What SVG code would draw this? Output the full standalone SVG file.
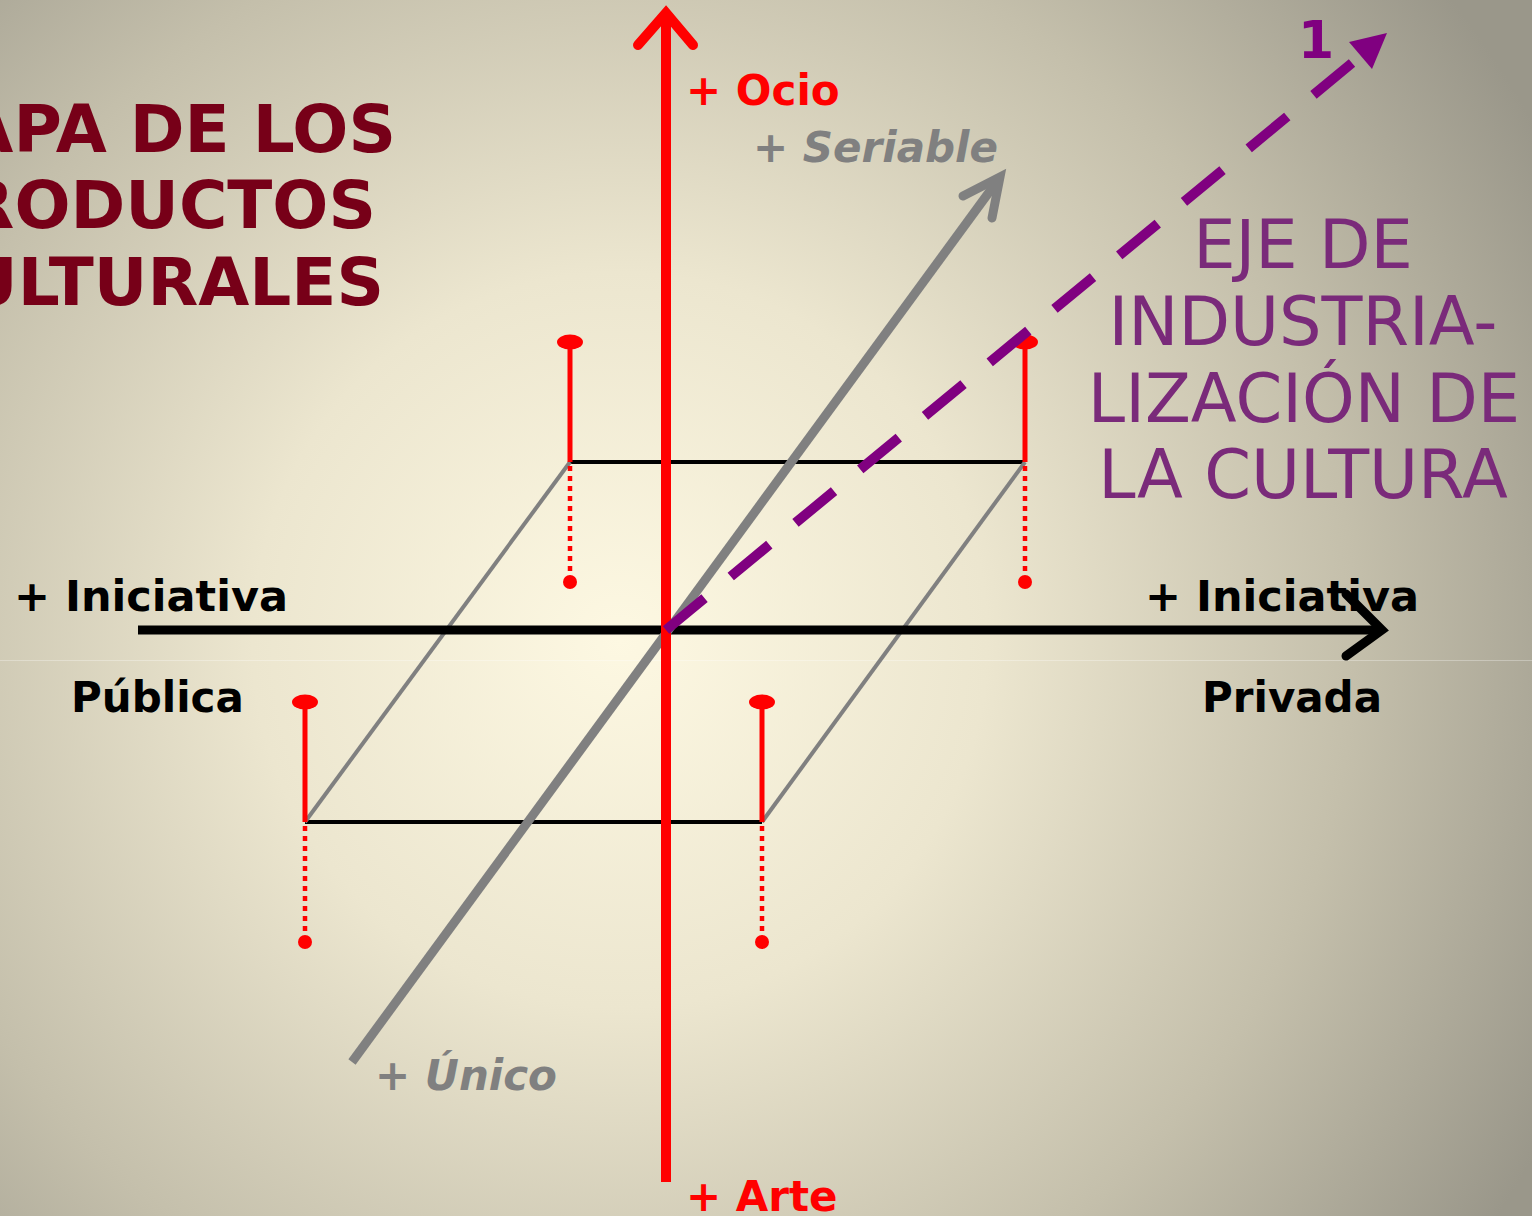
<svg xmlns="http://www.w3.org/2000/svg" width="1532" height="1216" viewBox="0 0 1532 1216">
<defs>
<radialGradient id="bg" gradientUnits="userSpaceOnUse" cx="620" cy="640" r="1050">
<stop offset="0" stop-color="#fdf8e2"/>
<stop offset="0.35" stop-color="#ece6cf"/>
<stop offset="0.7" stop-color="#c4bfab"/>
<stop offset="1" stop-color="#9a978a"/>
</radialGradient>
<style>
.t{font-family:"DejaVu Sans","Liberation Sans",sans-serif;font-weight:bold;font-size:42px}
.it{font-style:italic;fill:#808080}
.red{fill:#ff0000}
.blk{fill:#000}
.title{font-family:"DejaVu Sans","Liberation Sans",sans-serif;font-weight:bold;font-size:66px;fill:#770018;text-anchor:end}
.eje{font-family:"DejaVu Sans","Liberation Sans",sans-serif;font-size:67px;fill:#7a2a7a;text-anchor:middle}
.pin{stroke:#ff0000;stroke-width:5;fill:none}
.dot{stroke:#ff0000;stroke-width:4.5;stroke-dasharray:5 5;fill:none}
.edge{stroke:#000;stroke-width:4;fill:none}
.side{stroke:#808080;stroke-width:4;fill:none}
</style>
</defs>
<rect width="1532" height="1216" fill="url(#bg)"/>
<line x1="0" y1="660.5" x2="1532" y2="660.5" stroke="#ffffff" stroke-opacity="0.3" stroke-width="1"/>

<g id="title">
<text class="title" x="396" y="152">MAPA DE LOS</text>
<text class="title" x="376" y="228">PRODUCTOS</text>
<text class="title" x="384" y="305">CULTURALES</text>
</g>

<g id="connectors">
<g id="plane">
<line class="edge" x1="570" y1="462" x2="1025" y2="462"/>
<line class="edge" x1="305" y1="822" x2="762" y2="822"/>
<line class="side" x1="570" y1="462" x2="305" y2="822"/>
<line class="side" x1="1025" y1="462" x2="762" y2="822"/>
</g>
<g id="pins">
<line class="pin" x1="570" y1="462" x2="570" y2="342"/>
<ellipse cx="570" cy="342" rx="13" ry="7.5" fill="#ff0000"/>
<line class="dot" x1="570" y1="466" x2="570" y2="578"/>
<circle cx="570" cy="582" r="7" fill="#ff0000"/>
<line class="pin" x1="1025" y1="462" x2="1025" y2="342"/>
<ellipse cx="1025" cy="342" rx="13" ry="7.5" fill="#ff0000"/>
<line class="dot" x1="1025" y1="466" x2="1025" y2="578"/>
<circle cx="1025" cy="582" r="7" fill="#ff0000"/>
<line class="pin" x1="305" y1="822" x2="305" y2="702"/>
<ellipse cx="305" cy="702" rx="13" ry="7.5" fill="#ff0000"/>
<line class="dot" x1="305" y1="826" x2="305" y2="938"/>
<circle cx="305" cy="942" r="7" fill="#ff0000"/>
<line class="pin" x1="762" y1="822" x2="762" y2="702"/>
<ellipse cx="762" cy="702" rx="13" ry="7.5" fill="#ff0000"/>
<line class="dot" x1="762" y1="826" x2="762" y2="938"/>
<circle cx="762" cy="942" r="7" fill="#ff0000"/>
</g>
<g id="axis-x">
<line x1="138" y1="630" x2="1380" y2="630" stroke="#000" stroke-width="9"/>
<polyline points="1346,594 1382,630 1346,656" fill="none" stroke="#000" stroke-width="9" stroke-linecap="round" stroke-linejoin="miter"/>
</g>
<g id="axis-z">
<line x1="352" y1="1062" x2="998" y2="180" stroke="#808080" stroke-width="9"/>
<polyline points="963,196 1000,177 992,218" fill="none" stroke="#808080" stroke-width="9" stroke-linecap="round" stroke-linejoin="miter"/>
</g>
<g id="axis-y">
<line x1="666" y1="1182" x2="666" y2="14" stroke="#ff0000" stroke-width="10"/>
<polyline points="638,45 666,13 693,45" fill="none" stroke="#ff0000" stroke-width="10" stroke-linecap="round" stroke-linejoin="miter"/>
</g>
<g id="axis-industria">
<line x1="666" y1="630" x2="1352" y2="63" stroke="#800080" stroke-width="10" stroke-dasharray="50 34"/>
<polygon points="1387,33 1349,42 1372,69" fill="#800080"/>
</g>
</g>

<g id="labels">
<text class="t red" x="686" y="105">+ Ocio</text>
<text class="t it" x="753" y="162">+ Seriable</text>
<text class="t" x="1298" y="58" style="fill:#800080;font-size:52px">1</text>
<text class="t blk" x="14" y="611" style="font-size:43px">+ Iniciativa</text>
<text class="t blk" x="71" y="712">Pública</text>
<text class="t blk" x="1145" y="611" style="font-size:43px">+ Iniciativa</text>
<text class="t blk" x="1202" y="712">Privada</text>
<text class="t it" x="375" y="1090">+ Único</text>
<text class="t red" x="686" y="1211">+ Arte</text>
</g>

<g id="eje-label">
<text class="eje" x="1303" y="268">EJE DE</text>
<text class="eje" x="1303" y="345">INDUSTRIA-</text>
<text class="eje" x="1304" y="422">LIZACIÓN DE</text>
<text class="eje" x="1303" y="498">LA CULTURA</text>
</g>
</svg>
